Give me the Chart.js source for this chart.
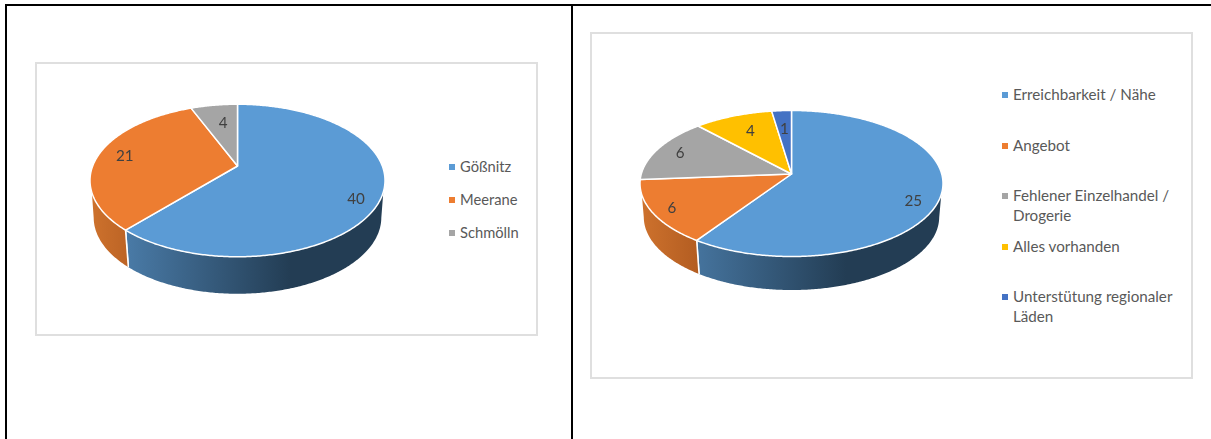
<!DOCTYPE html>
<html>
<head>
    <meta charset="UTF-8">
    <title>Kreisdiagramme</title>
    <script src="https://cdn.jsdelivr.net/npm/chart.js"></script>
    <style>
        html, body { margin: 0; background: #fff; overflow: hidden; }
        #page { position: relative; width: 1211px; height: 439px; font-family: Lato, sans-serif; }
        .rule { position: absolute; background: #000; }
        .panel { position: absolute; box-sizing: border-box; border: 2px solid #dfdfdf; background: #fff; }
        canvas { position: absolute; }
        .legend-row { position: absolute; line-height: 20px; color: #595959; }
        .legend-box { position: absolute; left: 0; width: 6px; height: 6px; top: 8px; }
    </style>
</head>
<body>
<div id="page">
    <div class="rule" style="left:5px; top:4px; width:1206px; height:2px"></div>
    <div class="rule" style="left:5px; top:4px; width:2px; height:435px"></div>
    <div class="rule" style="left:571px; top:4px; width:2px; height:435px"></div>
    <div class="panel" style="left:35px; top:62px; width:503px; height:274px"></div>
    <div class="panel" style="left:590px; top:32px; width:603px; height:347px"></div>
    <canvas id="townChart" width="319" height="319" style="left:78px; top:21px"></canvas>
    <canvas id="reasonChart" width="327" height="327" style="left:628px; top:20px"></canvas>
</div>

<script>
    const townLabels = ['Gößnitz', 'Meerane', 'Schmölln'];
    const townValues = [40, 21, 4];

    const reasonLabels = ['Erreichbarkeit / Nähe', 'Angebot', 'Fehlener Einzelhandel / Drogerie', 'Alles vorhanden', 'Unterstütung regionaler Läden'];
    const reasonValues = [25, 6, 6, 4, 1];

    const sliceColors = ['#5B9BD5', '#ED7D31', '#A5A5A5', '#FFC000', '#4472C4'];

    // wall shading per slice: light end, dark end, and where they sit across the pie (-1..1)
    const wallShades = [
        ['#5288B9', '#233D54', -1, 0.36],
        ['#CE722D', '#B25C21', -1, -0.6],
        ['#8A8A8A', '#6A6A6A', -1, 1],
        ['#CC9A00', '#A07800', -1, 1],
        ['#3A62A8', '#2C4A80', -1, 1]
    ];

    // tilted pie: squash is the vertical radius over the horizontal one, tilt moves the apex
    // towards the back rim, labelSpots are [radius fraction, angle nudge in degrees]
    const townLook = { squash: 0.517, tilt: -0.19, depth: 37, labelSpots: [[0.86, 8], [0.81, 0], [0.66, 1.4]] };
    const reasonLook = { squash: 0.482, tilt: -0.13, depth: 33.5, labelSpots: [[0.855, 8.2], [0.875, -1.1], [0.83, 0.4], [0.71, 1], [0.69, 0]] };

    // projects a point of the flat unit disc on to the tilted ellipse
    function project(look, arc, u, v) {
        const s = Math.sqrt(1 - look.tilt * look.tilt);
        const d = 1 + look.tilt * v;
        return {
            x: arc.x + arc.outerRadius * u * s / d,
            y: arc.y + arc.outerRadius * look.squash * (v + look.tilt) / d
        };
    }

    function rimPoints(look, arc) {
        const pts = [];
        const steps = Math.max(2, Math.ceil((arc.endAngle - arc.startAngle) / 0.01));
        for (let i = 0; i <= steps; i++) {
            const a = arc.startAngle + (arc.endAngle - arc.startAngle) * i / steps;
            pts.push(project(look, arc, Math.cos(a), Math.sin(a)));
        }
        return pts;
    }

    function drawWall(ctx, look, arc, index) {
        const ry = arc.outerRadius * look.squash;
        const rim = rimPoints(look, arc);
        const lower = rim.filter(p => p.y >= arc.y);
        // the wall only shows a little below the widest point of the rim
        const front = rim.filter(p => p.y >= arc.y + ry * 0.15);
        if (front.length < 2) return;
        const base = p => ({ x: arc.x + (p.x - arc.x) * 0.975, y: p.y + look.depth });
        const shade = wallShades[index];
        const grad = ctx.createLinearGradient(arc.x + shade[2] * arc.outerRadius, 0, arc.x + shade[3] * arc.outerRadius, 0);
        grad.addColorStop(0, shade[0]);
        grad.addColorStop(1, shade[1]);

        ctx.beginPath();
        front.forEach((p, i) => i ? ctx.lineTo(p.x, p.y) : ctx.moveTo(p.x, p.y));
        lower.slice().reverse().forEach(p => { const b = base(p); ctx.lineTo(b.x, b.y); });
        ctx.closePath();
        ctx.fillStyle = grad;
        ctx.fill();

        // white seam where two slices meet on the wall
        [front[0], front[front.length - 1]].forEach(p => {
            if (Math.abs(p.x - arc.x) > arc.outerRadius * 0.95) return;
            const b = base(p);
            ctx.beginPath();
            ctx.moveTo(p.x, p.y);
            ctx.lineTo(b.x, b.y);
            ctx.strokeStyle = '#fff';
            ctx.lineWidth = 1.5;
            ctx.stroke();
        });
    }

    function drawFace(ctx, look, arc, color) {
        const apex = project(look, arc, 0, 0);
        ctx.beginPath();
        ctx.moveTo(apex.x, apex.y);
        rimPoints(look, arc).forEach(p => ctx.lineTo(p.x, p.y));
        ctx.closePath();
        ctx.fillStyle = color;
        ctx.fill();
        ctx.strokeStyle = '#fff';
        ctx.lineWidth = 1.5;
        ctx.lineJoin = 'round';
        ctx.stroke();
    }

    // replaces the flat arcs with the tilted pie, using the angles the controller worked out
    const tiltedPie = {
        id: 'tiltedPie',
        beforeDatasetDraw(chart) {
            const ctx = chart.ctx;
            const look = chart.options.plugins.tiltedPie;
            const arcs = chart.getDatasetMeta(0).data;
            const values = chart.data.datasets[0].data;
            ctx.save();
            arcs.forEach((arc, i) => drawWall(ctx, look, arc, i));
            arcs.forEach((arc, i) => drawFace(ctx, look, arc, sliceColors[i]));
            ctx.font = '15.2px Lato';
            ctx.fillStyle = '#404040';
            ctx.textAlign = 'center';
            ctx.textBaseline = 'middle';
            arcs.forEach((arc, i) => {
                const spot = look.labelSpots[i];
                const a = (arc.startAngle + arc.endAngle) / 2 + spot[1] * Math.PI / 180;
                const p = project(look, arc, spot[0] * Math.cos(a), spot[0] * Math.sin(a));
                ctx.fillText(String(values[i]), p.x, p.y);
            });
            ctx.restore();
            return false;
        }
    };

    function createPie(id, labels, values, look) {
        return new Chart(document.getElementById(id).getContext('2d'), {
            type: 'pie',
            data: {
                labels: labels,
                datasets: [{ data: values, backgroundColor: sliceColors, borderWidth: 0 }]
            },
            options: {
                responsive: false,
                animation: false,
                layout: { padding: 12 },
                plugins: {
                    legend: { display: false },
                    tooltip: { enabled: false },
                    tiltedPie: look
                }
            },
            plugins: [tiltedPie]
        });
    }

    function addLegend(labels, left, top, pitch, width, fontSize) {
        const page = document.getElementById('page');
        labels.forEach((text, i) => {
            const row = document.createElement('div');
            row.className = 'legend-row';
            row.style.left = left + 'px';
            row.style.top = (top + pitch * i) + 'px';
            row.style.width = width + 'px';
            row.style.paddingLeft = '11px';
            row.style.fontSize = fontSize + 'px';
            const box = document.createElement('span');
            box.className = 'legend-box';
            box.style.background = sliceColors[i];
            row.appendChild(box);
            row.appendChild(document.createTextNode(text));
            page.appendChild(row);
        });
    }

    createPie('townChart', townLabels, townValues, townLook);
    createPie('reasonChart', reasonLabels, reasonValues, reasonLook);
    addLegend(townLabels, 449, 156, 33, 90, 14.7);
    addLegend(reasonLabels, 1002, 84, 50.5, 172, 15.2);
</script>
</body>
</html>
